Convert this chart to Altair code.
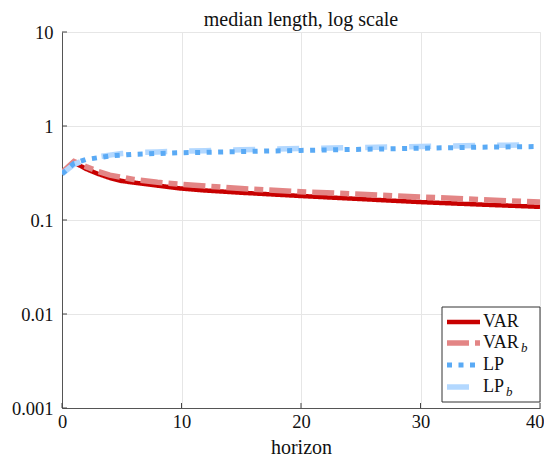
import altair as alt
import pandas as pd

horizon = [0, 1, 2, 3, 4, 5, 6, 8, 10, 12, 15, 20, 25, 30, 35, 40]
var = [0.32, 0.41, 0.35, 0.31, 0.28, 0.26, 0.25, 0.232, 0.216, 0.206, 0.195, 0.18, 0.167, 0.155, 0.146, 0.138]
var_b = [0.32, 0.42, 0.37, 0.33, 0.30, 0.285, 0.27, 0.252, 0.24, 0.23, 0.216, 0.20, 0.188, 0.176, 0.165, 0.155]
lp = [0.31, 0.40, 0.44, 0.46, 0.48, 0.49, 0.50, 0.51, 0.52, 0.525, 0.535, 0.55, 0.565, 0.58, 0.595, 0.605]
lp_b = [0.31, 0.39, 0.44, 0.47, 0.49, 0.51, 0.52, 0.53, 0.54, 0.545, 0.56, 0.575, 0.59, 0.605, 0.62, 0.63]

series_names = ["VAR", "VAR_b", "LP", "LP_b"]
legend_main = ["VAR", "VAR", "LP", "LP"]
legend_sub = ["", "b", "", "b"]
x_ticks = [0, 10, 20, 30, 40]
y_ticks = [0.001, 0.01, 0.1, 1, 10]

colors = ["#c80000", "#e38585", "#5aaaf5", "#b3d8ff"]
dashes = [[1, 0], [22, 6, 9, 6], [5, 6.5], [22, 22]]
widths = [4.5, 5.5, 5, 5.5]
draw_order = [0, 1, 3, 2]

FONT = "Liberation Serif"
W, H = 478, 376

rows = []
for name, vals in zip(series_names, [var, var_b, lp, lp_b]):
    for h, v in zip(horizon, vals):
        rows.append({"series": name, "horizon": h, "value": v})
df = pd.DataFrame(rows)

xenc = alt.X("horizon:Q", scale=alt.Scale(domain=[0, 40], nice=False),
             axis=alt.Axis(values=x_ticks, title="horizon", grid=True, ticks=False, labelFlush=False,
                           labelAlign={"condition": {"test": "datum.value == 40", "value": "right"}, "value": "center"},
                           labelOffset={"condition": {"test": "datum.value == 40", "value": 4}, "value": 0},
                           labelPadding=4, titlePadding=7, format="d"))
yenc = alt.Y("value:Q", scale=alt.Scale(type="log", domain=[0.001, 10], nice=False),
             axis=alt.Axis(values=y_ticks, title=None, grid=True, ticks=False, labelFlush=False,
                           labelPadding=9, labelExpr="toString(datum.value)"))

layers = []
for i in draw_order:
    layers.append(
        alt.Chart(df).transform_filter(alt.datum.series == series_names[i])
        .mark_line(color=colors[i], strokeDash=dashes[i], strokeWidth=widths[i], clip=True)
        .encode(x=xenc, y=yenc)
    )

# inward ticks
xt = pd.DataFrame({"horizon": x_ticks})
layers.append(alt.Chart(xt).mark_rule(color="#444", strokeWidth=1).encode(
    x=alt.X("horizon:Q"), y=alt.value(H), y2=alt.value(H - 5)))
yt = pd.DataFrame({"value": y_ticks})
layers.append(alt.Chart(yt).mark_rule(color="#444", strokeWidth=1).encode(
    y=alt.Y("value:Q"), x=alt.value(0), x2=alt.value(5)))

# legend
one = pd.DataFrame({"a": [0]})
lx0, lx1, ly0, ly1 = 380, 478, 275, 370
layers.append(alt.Chart(one).mark_rect(fill="white", stroke="#333", strokeWidth=1).encode(
    x=alt.value(lx0), x2=alt.value(lx1), y=alt.value(ly0), y2=alt.value(ly1)))
row_y = [290, 311, 333, 355]
main_w = [37, 37, 22, 22]
for i in range(4):
    layers.append(alt.Chart(one).mark_rule(color=colors[i], strokeDash=dashes[i], strokeWidth=widths[i]).encode(
        x=alt.value(385), x2=alt.value(418), y=alt.value(row_y[i])))
    layers.append(alt.Chart(one).mark_text(text=legend_main[i], font=FONT, fontSize=18, align="left",
                                           baseline="middle", color="#111").encode(
        x=alt.value(421), y=alt.value(row_y[i])))
    if legend_sub[i]:
        layers.append(alt.Chart(one).mark_text(text=legend_sub[i], font=FONT, fontSize=13, fontStyle="italic",
                                               align="left", baseline="middle", color="#111").encode(
            x=alt.value(421 + main_w[i] + 1), y=alt.value(row_y[i] + 5)))

chart = alt.layer(*layers).properties(
    width=W, height=H,
    title=alt.Title("median length, log scale", font=FONT, fontSize=20, fontWeight="normal",
                    color="#111", offset=-7),
    autosize=alt.AutoSizeParams(type="none"),
    padding={"left": 54, "top": 24, "right": 4, "bottom": 53},
).configure_view(stroke="#e6e6e6", strokeWidth=1).configure_axis(
    labelFont=FONT, titleFont=FONT, labelFontSize=18.5, titleFontSize=20,
    labelColor="#111", titleColor="#111", titleFontWeight="normal",
    domainColor="#555", domainWidth=1, gridColor="#e6e6e6", gridWidth=1,
)

chart.save("out.html", embed_options={"renderer": "svg", "actions": False})
